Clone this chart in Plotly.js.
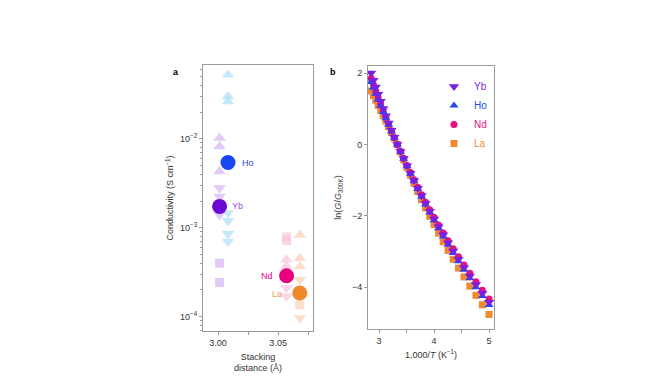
<!DOCTYPE html>
<html>
<head>
<meta charset="utf-8">
<script src="https://cdn.plot.ly/plotly-3.0.1.min.js"></script>
<style>html,body{margin:0;padding:0;background:#fff;}#chart{width:666px;height:385px;}</style>
</head>
<body>
<div id="chart"></div>
<script>
// ---------- Panel a data ----------
const stackYb = 3.0013, stackHo = 3.0083, stackNd = 3.057, stackLa = 3.068;
const ybSmallVals = [0.0102, 0.0082, 0.0043, 0.0028, 0.00225, 0.0014, 0.00040, 0.000243];
const ybSmallSym  = ['triangle-up','triangle-up','triangle-up','triangle-down','triangle-down','triangle-down','square','square'];
const hoSmallVals = [0.0524, 0.0299, 0.0263, 0.00147, 0.0012, 0.00086, 0.00070];
const hoSmallSym  = ['triangle-up','triangle-up','triangle-up','triangle-down','triangle-down','triangle-down','triangle-down'];
const ndSmallVals = [0.00079, 0.00072, 0.000437, 0.00037, 0.00021, 0.00017];
const ndSmallSym  = ['square','square','triangle-up','triangle-up','triangle-down','triangle-down'];
const laSmallVals = [0.00083, 0.000456, 0.000367, 0.00026, 0.000136, 0.000097];
const laSmallSym  = ['triangle-up','triangle-up','triangle-up','triangle-down','square','triangle-down'];
const bigNames = ['Yb','Ho','Nd','La'];
const bigX = [stackYb, stackHo, stackNd, stackLa];
const bigVals = [0.00174, 0.00542, 0.000289, 0.000185];

// ---------- Panel b data ----------
const invT = [2.857,2.899,2.941,2.985,3.030,3.077,3.125,3.175,3.226,3.279,3.333,3.390,3.448,3.509,3.571,3.636,3.704,3.774,3.846,3.922,4.000,4.082,4.167,4.255,4.348,4.444,4.545,4.651,4.762,4.878,5.000];
const lnYb = [1.999,1.800,1.605,1.406,1.207,1.004,0.804,0.600,0.399,0.198,0,-0.199,-0.397,-0.601,-0.805,-1.013,-1.225,-1.439,-1.652,-1.870,-2.087,-2.309,-2.532,-2.757,-2.987,-3.216,-3.447,-3.685,-3.927,-4.171,-4.421];
const lnHo = [1.749,1.585,1.422,1.253,1.083,0.908,0.732,0.551,0.371,0.186,0,-0.203,-0.404,-0.612,-0.819,-1.031,-1.247,-1.465,-1.682,-1.904,-2.125,-2.351,-2.578,-2.807,-3.041,-3.274,-3.509,-3.751,-3.998,-4.246,-4.501];
const lnNd = [1.850,1.672,1.496,1.316,1.135,0.949,0.763,0.573,0.384,0.191,0,-0.195,-0.389,-0.588,-0.788,-0.992,-1.199,-1.409,-1.617,-1.831,-2.043,-2.260,-2.479,-2.699,-2.924,-3.148,-3.375,-3.608,-3.845,-4.083,-4.328];
const lnLa = [1.499,1.367,1.235,1.096,0.954,0.806,0.655,0.498,0.337,0.170,0,-0.214,-0.428,-0.647,-0.867,-1.091,-1.319,-1.550,-1.779,-2.014,-2.248,-2.487,-2.727,-2.969,-3.217,-3.464,-3.712,-3.969,-4.229,-4.492,-4.761];

const aXTicks = [3.00, 3.05], aXTickText = ['3.00','3.05'];
const aYTicks = [1e-4, 1e-3, 1e-2], aYTickText = ['10<sup>−4</sup>','10<sup>−3</sup>','10<sup>−2</sup>'];
const bXTicks = [3,4,5], bYTicks = [-4,-2,0,2], bYTickText = ['−4','−2','0','2'];

const col = {
  Yb:'#7a1fe0', Ho:'#2448f0', Nd:'#e8107f', La:'#f08a30',
  YbBig:'#6a0ad0', HoBig:'#1a45f2', NdBig:'#e8007e', LaBig:'#f0872a',
  YbL:'#d6b2f2', HoL:'#aedff6', NdL:'#f8c4dc', LaL:'#f9d2b4'
};

const traces = [];
function small(xv, vals, syms, c){
  traces.push({type:'scatter', mode:'markers', x: vals.map(()=>xv), y: vals, xaxis:'x', yaxis:'y', showlegend:false,
    hoverinfo:'skip',
    marker:{symbol: syms, color:c, size: syms.map(s=> s==='square'?9:11), line:{width:0}}});
}
small(stackLa, laSmallVals, laSmallSym, col.LaL);
small(stackNd, ndSmallVals, ndSmallSym, col.NdL);
small(stackHo, hoSmallVals, hoSmallSym, col.HoL);
small(stackYb, ybSmallVals, ybSmallSym, col.YbL);
traces.push({type:'scatter', mode:'markers', x: bigX, y: bigVals, xaxis:'x', yaxis:'y', showlegend:false, hoverinfo:'skip',
  marker:{symbol:'circle', size:15, color:[col.YbBig, col.HoBig, col.NdBig, col.LaBig], line:{width:0}}});

// panel b
function ser(name, y, sym, c, sz){
  traces.push({type:'scatter', mode:'markers', x: invT, y: y, xaxis:'x2', yaxis:'y2',
    name:'<span style="color:'+c+'">'+name+'</span>',
    marker:{symbol:sym, color:c, size:sz, line:{width:0}}});
}
ser('La', lnLa, 'square', col.La, 7);
ser('Nd', lnNd, 'circle', col.Nd, 7);
ser('Ho', lnHo, 'triangle-up', col.Ho, 8);
ser('Yb', lnYb, 'triangle-down', col.Yb, 9);

const W=666, H=385;
const ax = {showline:true, linecolor:'#9a9a9a', linewidth:1, mirror:true, ticks:'outside', ticklen:3, tickcolor:'#9a9a9a',
  showgrid:false, zeroline:false, tickfont:{size:9, color:'#333'}};

const layout = {
  width:W, height:H, margin:{l:0,r:0,t:0,b:0}, paper_bgcolor:'#fff', plot_bgcolor:'#fff',
  font:{family:'Liberation Sans, Arial, sans-serif', size:9, color:'#333'},
  xaxis: Object.assign({}, ax, {domain:[203/W, 313/W], range:[2.9875, 3.079], tickmode:'array', tickvals:aXTicks, ticktext:aXTickText,
    minor:{tickmode:'array', tickvals:[3.025, 3.075], ticks:'outside', ticklen:3, tickcolor:'#9a9a9a'},
    title:{text:'Stacking<br>distance (Å)', font:{size:9, color:'#333'}, standoff:6}}),
  yaxis: Object.assign({}, ax, {domain:[1-331/H, 1-65/H], type:'log', range:[-4.16, -1.17], tickmode:'array', tickvals:aYTicks, ticktext:aYTickText,
    minor:{tickmode:'array', tickvals:[7e-5,8e-5,9e-5,2e-4,3e-4,4e-4,5e-4,6e-4,7e-4,8e-4,9e-4,2e-3,3e-3,4e-3,5e-3,6e-3,7e-3,8e-3,9e-3,2e-2,3e-2,4e-2,5e-2,6e-2], ticks:'outside', ticklen:2, tickcolor:'#9a9a9a'},
    title:{text:'Conductivity (S cm<sup>−1</sup>)', font:{size:9, color:'#333'}, standoff:4}}),
  xaxis2: Object.assign({}, ax, {domain:[368/W, 494/W], range:[2.8, 5.09], tickmode:'array', tickvals:bXTicks,
    minor:{tickmode:'array', tickvals:[3.5, 4.5], ticks:'outside', ticklen:3, tickcolor:'#9a9a9a'},
    anchor:'y2', title:{text:'1,000/<i>T</i> (K<sup>−1</sup>)', font:{size:9, color:'#333'}, standoff:6}}),
  yaxis2: Object.assign({}, ax, {domain:[1-329/H, 1-66/H], range:[-5.17, 2.196], tickmode:'array', tickvals:bYTicks, ticktext:bYTickText,
    anchor:'x2', title:{text:'ln(<i>G</i>/<i>G</i><sub>300K</sub>)', font:{size:9, color:'#333'}, standoff:8}}),
  showlegend:true,
  legend:{x:434/W, xanchor:'left', y:1-72/H, yanchor:'top', bgcolor:'rgba(0,0,0,0)', traceorder:'reversed', font:{size:10}},
  annotations:[
    {xref:'paper', yref:'paper', x:171/W, y:1-65/H, text:'<b>a</b>', showarrow:false, font:{size:9, color:'#000'}},
    {xref:'paper', yref:'paper', x:333/W, y:1-65/H, text:'<b>b</b>', showarrow:false, font:{size:9, color:'#000'}},
    {xref:'x', yref:'y', x:3.018, y:Math.log10(bigVals[1]), text:'Ho', xanchor:'left', showarrow:false, font:{size:9, color:col.HoBig}},
    {xref:'x', yref:'y', x:3.0103, y:Math.log10(bigVals[0]), text:'Yb', xanchor:'left', showarrow:false, font:{size:9, color:'#9a48d8'}},
    {xref:'x', yref:'y', x:3.0478, y:Math.log10(bigVals[2]), text:'Nd', xanchor:'right', showarrow:false, font:{size:9, color:col.NdBig}},
    {xref:'x', yref:'y', x:3.0545, y:Math.log10(bigVals[3]) - 0.01, text:'La', xanchor:'right', showarrow:false, font:{size:9, color:'#f0a060'}}
  ]
};
Plotly.newPlot('chart', traces, layout, {staticPlot:true, displayModeBar:false});
</script>
</body>
</html>
